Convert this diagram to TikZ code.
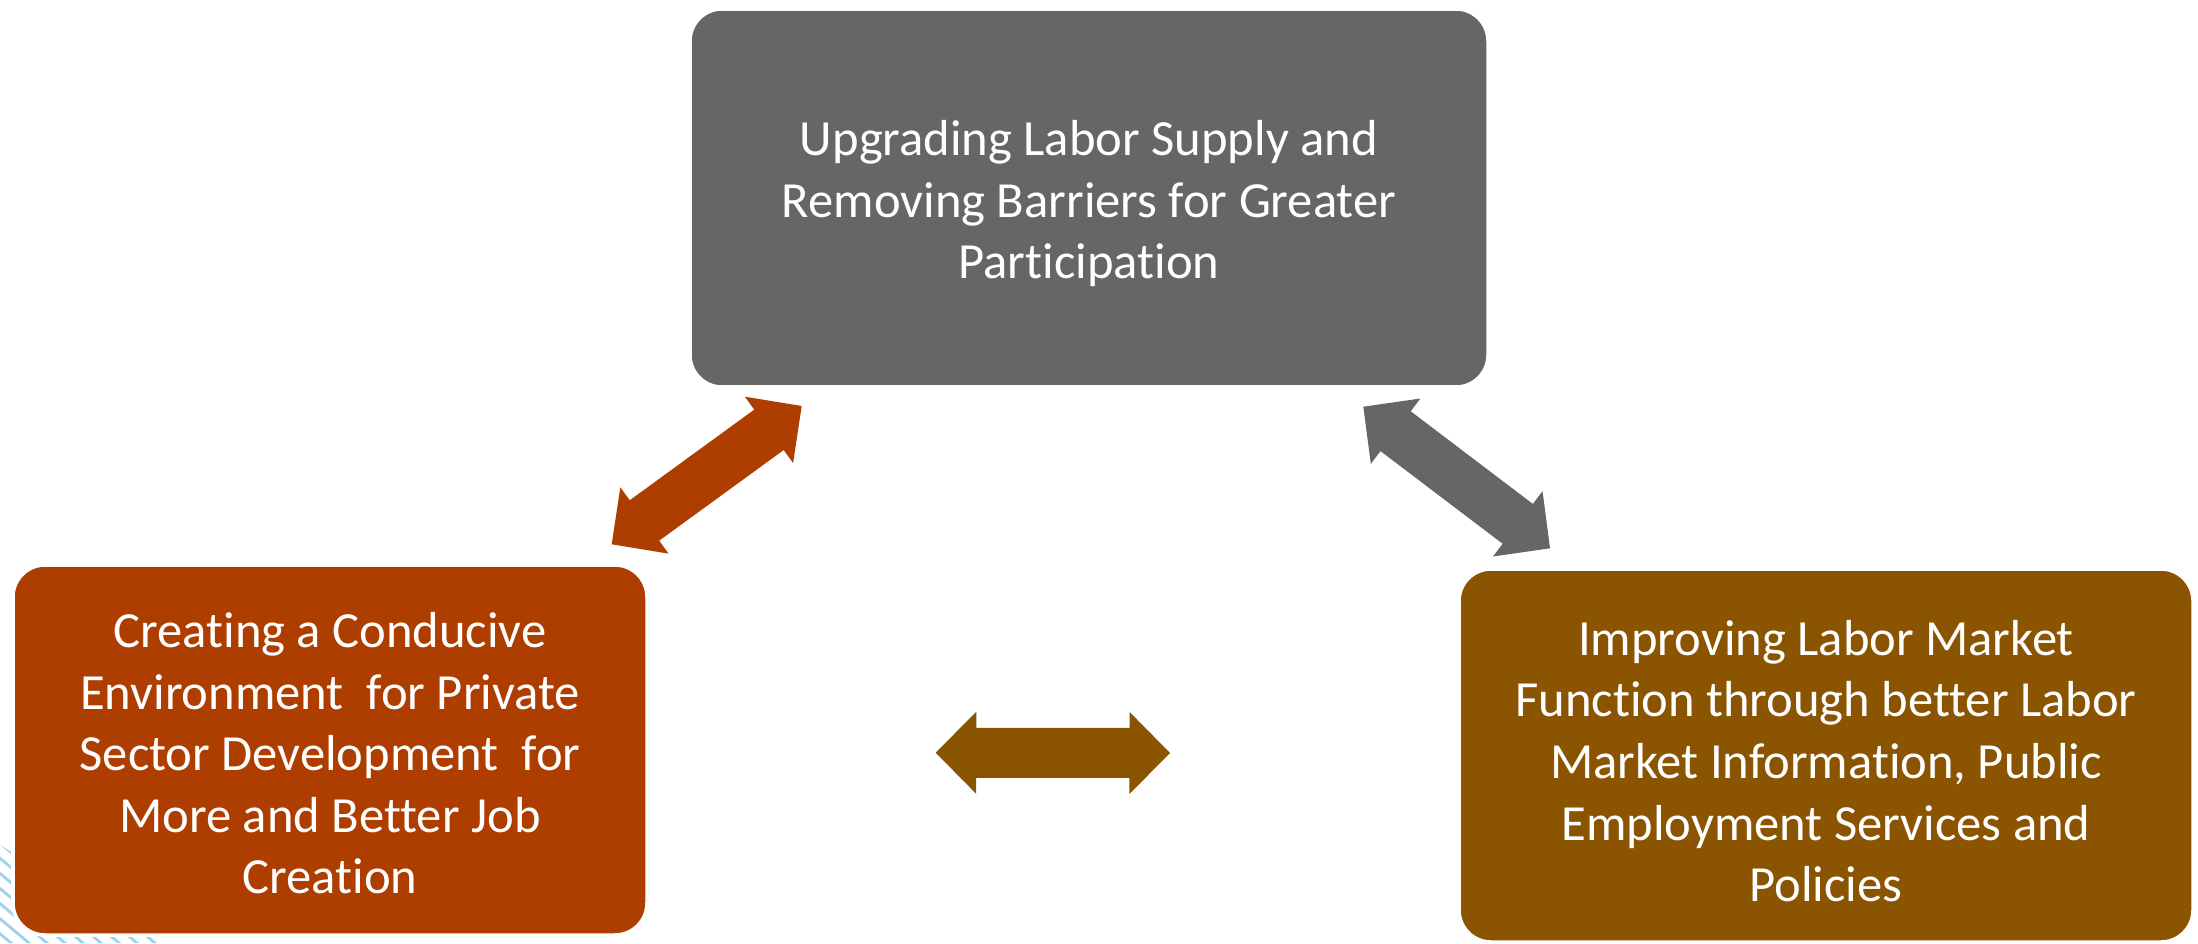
\documentclass[tikz,border=0pt]{standalone}
\usepackage{fontspec}
\setmainfont{Carlito}[Ligatures=NoCommon]
\usetikzlibrary{calc}

\definecolor{rust}{RGB}{174,62,0}
\definecolor{ochre}{RGB}{139,84,0}
\definecolor{slate}{RGB}{102,102,102}
\definecolor{stripeblue}{RGB}{160,208,236}

% sizes of the block arrows
\newcommand{\arrhead}{0.405cm}
\newcommand{\arrwing}{0.41cm}
\newcommand{\arrshaft}{0.25cm}
% block arrow with a head at both ends: #1 colour, #2 and #3 the tips
\newcommand{\twoway}[3]{%
  \fill[#1] (#2)
    -- ($(#2)!\arrhead!(#3)!\arrwing!90:(#3)$)
    -- ($(#2)!\arrhead!(#3)!\arrshaft!90:(#3)$)
    -- ($(#3)!\arrhead!(#2)!\arrshaft!-90:(#2)$)
    -- ($(#3)!\arrhead!(#2)!\arrwing!-90:(#2)$)
    -- (#3)
    -- ($(#3)!\arrhead!(#2)!\arrwing!90:(#2)$)
    -- ($(#3)!\arrhead!(#2)!\arrshaft!90:(#2)$)
    -- ($(#2)!\arrhead!(#3)!\arrshaft!-90:(#3)$)
    -- ($(#2)!\arrhead!(#3)!\arrwing!-90:(#3)$)
    -- cycle;}

\tikzset{
  pillar/.style={rounded corners=0.32cm, draw=white, line width=1pt},
  pillartext/.style={text=white, align=center, inner sep=0pt,
    font=\fontsize{14.4}{17.5}\selectfont},
}

\begin{document}
\begin{tikzpicture}
    \useasboundingbox (0,0) rectangle (21.98,9.43);

    % faint stripes in the lower left corner
    \begin{scope}
        \clip (0,0) -- (0,0.98) -- (1.6,0) -- cycle;
        \foreach \k in {0,...,17}
            \draw[stripeblue, line width=0.8pt] (-1.5+0.18*\k,1.2) -- ++(-40:4);
    \end{scope}

    % the three pillars
    \node[pillar, fill=slate, minimum width=7.98cm, minimum height=3.78cm] (supply) at (10.89,7.45) {};
    \node[pillar, fill=rust, minimum width=6.34cm, minimum height=3.70cm] (privsec) at (3.30,1.93) {};
    \node[pillar, fill=ochre, minimum width=7.34cm, minimum height=3.73cm] (lmfunc) at (18.26,1.875) {};

    \node[pillartext] (supplytext) at ($(supply.center)+(0,-0.056)$)
        {Upgrading Labor Supply and\\Removing Barriers for Greater\\Participation};
    \node[pillartext] (privsectext) at ($(privsec.center)+(0,-0.035)$)
        {Creating a Conducive\\Environment\ \ for Private\\Sector Development\ \ for\\More and Better Job\\Creation};
    \node[pillartext] (lmfunctext) at ($(lmfunc.center)+(0,-0.056)$)
        {Improving Labor Market\\Function through better Labor\\Market Information, Public\\Employment Services and\\Policies};

    % arrows between the pillars
    \coordinate (la1) at (6.117,3.987);
    \coordinate (la2) at (8.017,5.370);
    \coordinate (ra1) at (13.633,5.363);
    \coordinate (ra2) at (15.500,3.947);
    \coordinate (ma1) at (9.357,1.903);
    \coordinate (ma2) at (11.700,1.900);

    \twoway{rust}{la1}{la2}
    \twoway{slate}{ra1}{ra2}
    \twoway{ochre}{ma1}{ma2}

\end{tikzpicture}
\end{document}
